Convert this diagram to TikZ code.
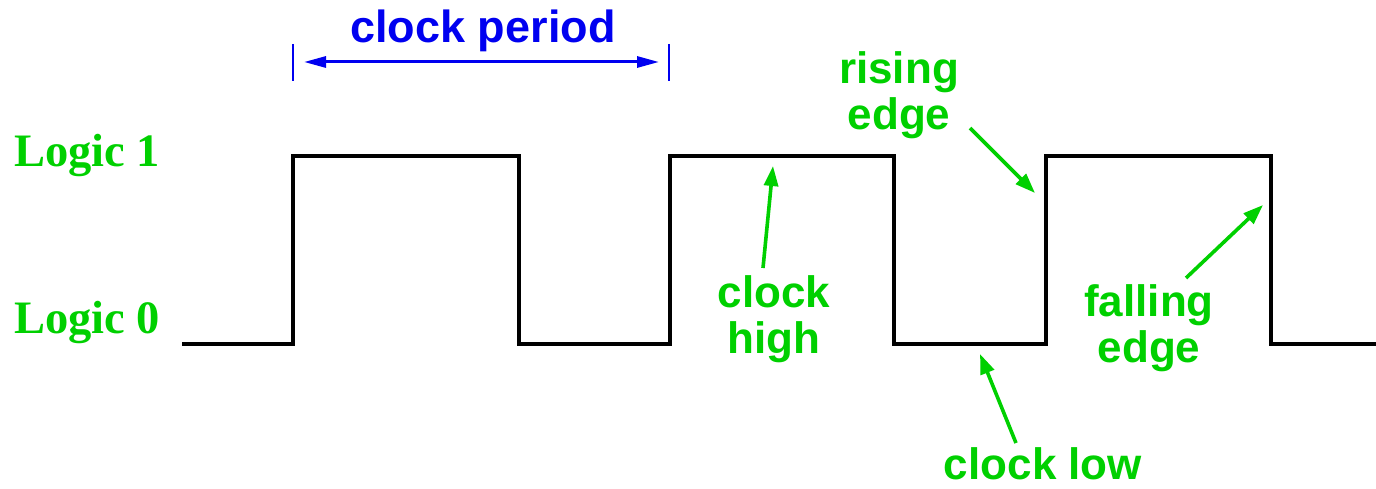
\documentclass[tikz,border=0pt]{standalone}
\usepackage{fontspec}
\setmainfont{Liberation Serif}
\setsansfont{Liberation Sans}
\usetikzlibrary{arrows.meta}
\definecolor{lgreen}{RGB}{0,208,0}
\definecolor{lblue}{RGB}{0,0,240}
\tikzset{
  wave/.style={line width=3.6pt, line join=miter},
  glabel/.style={text=lgreen, font=\sffamily\bfseries\fontsize{44}{46}\selectfont, align=center, inner sep=0pt},
  lvl/.style={text=lgreen, font=\rmfamily\bfseries\fontsize{46.5}{48}\selectfont, inner sep=0pt, anchor=base west},
  garrow/.style={draw=lgreen, line width=3.6pt, -{Triangle[length=20pt,width=14pt]}},
  tick/.style={draw=lblue, line width=1.4pt},
  barrow/.style={draw=lblue, line width=3pt, {Triangle[length=22pt,width=11pt]}-{Triangle[length=22pt,width=11pt]}}
}
\begin{document}
\begin{tikzpicture}[x=1pt,y=-1pt]
\useasboundingbox (0,0) rectangle (1376,489);
% waveform
\draw[wave] (182,344) -- (293,344) -- (293,156) -- (519,156) -- (519,344) -- (670,344) -- (670,156) -- (894,156) -- (894,344) -- (1046,344) -- (1046,156) -- (1271,156) -- (1271,344) -- (1376,344);
% level labels
\node[lvl] (l1) at (14,167) {Logic 1};
\node[lvl] (l0) at (14,333) {Logic 0};
% clock period
\coordinate (t1a) at (293,44); \coordinate (t1b) at (293,81);
\coordinate (t2a) at (669,44); \coordinate (t2b) at (669,81);
\draw[tick] (t1a) -- (t1b);
\draw[tick] (t2a) -- (t2b);
\coordinate (pa) at (304,62); \coordinate (pb) at (659,62);
\draw[barrow] (pa) -- (pb);
\node[text=lblue, font=\sffamily\bfseries\fontsize{45}{46}\selectfont, inner sep=0pt, anchor=base] (cp) at (483,43) {clock period};
% green labels
\node[glabel] (re) at (899,95) {rising\\edge};
\node[glabel] (ch) at (774,319) {clock\\high};
\node[glabel] (fe) at (1149,328) {falling\\edge};
\node[glabel, text depth=0pt, anchor=base] (cl) at (1043,479) {clock low};
% arrows
\coordinate (reS) at (970,128); \coordinate (reT) at (1035,193);
\coordinate (chS) at (763,268); \coordinate (chT) at (773,166);
\coordinate (feS) at (1186,278); \coordinate (feT) at (1263,205);
\coordinate (clS) at (1016,443); \coordinate (clT) at (980,354);
\draw[garrow] (reS) -- (reT);
\draw[garrow] (chS) -- (chT);
\draw[garrow] (feS) -- (feT);
\draw[garrow] (clS) -- (clT);
\end{tikzpicture}
\end{document}
